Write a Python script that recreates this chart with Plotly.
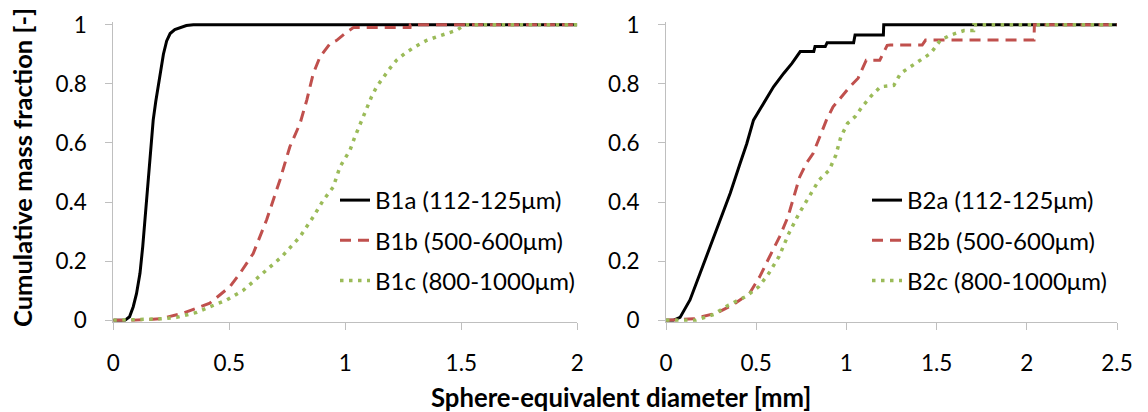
import plotly.graph_objects as go

# ---------------- data ----------------
series_names_1 = ["B1a (112-125μm)", "B1b (500-600μm)", "B1c (800-1000μm)"]
series_names_2 = ["B2a (112-125μm)", "B2b (500-600μm)", "B2c (800-1000μm)"]

b1a_x = [0, 0.05, 0.07, 0.086, 0.1, 0.115, 0.127, 0.137, 0.146, 0.155, 0.163, 0.172, 0.183,
         0.194, 0.205, 0.216, 0.23, 0.245, 0.265, 0.287, 0.315, 0.345, 2.0]
b1a_y = [0, 0, 0.012, 0.046, 0.09, 0.159, 0.25, 0.34, 0.425, 0.508, 0.59, 0.677, 0.74,
         0.79, 0.85, 0.9, 0.945, 0.97, 0.983, 0.99, 0.997, 1.0, 1.0]

b1b_x = [0, 0.086, 0.201, 0.30, 0.416, 0.503, 0.546, 0.603, 0.661, 0.718, 0.761, 0.805, 0.834,
         0.862, 0.891, 0.934, 0.963, 1.006, 1.035, 1.279, 1.28, 2.0]
b1b_y = [0, 0, 0.005, 0.024, 0.058, 0.114, 0.159, 0.226, 0.34, 0.474, 0.587, 0.666, 0.745,
         0.835, 0.891, 0.936, 0.947, 0.975, 0.99, 0.99, 1.0, 1.0]

b1c_x = [0, 0.2, 0.273, 0.36, 0.417, 0.489, 0.561, 0.647, 0.726, 0.805, 0.862, 0.905, 0.948,
         0.977, 1.020, 1.041, 1.07, 1.092, 1.113, 1.135, 1.164, 1.193, 1.221, 1.257, 1.3,
         1.351, 1.394, 1.437, 1.48, 1.516, 2.0]
b1c_y = [0, 0.005, 0.01, 0.027, 0.046, 0.069, 0.102, 0.159, 0.215, 0.283, 0.35, 0.406, 0.451,
         0.519, 0.575, 0.62, 0.677, 0.722, 0.756, 0.79, 0.824, 0.853, 0.88, 0.903, 0.925,
         0.947, 0.959, 0.97, 0.981, 1.0, 1.0]

b2a_x = [0, 0.04, 0.078, 0.133, 0.189, 0.244, 0.3, 0.356, 0.411, 0.448, 0.485, 0.541, 0.596,
         0.652, 0.698, 0.744, 0.819, 0.826, 0.883, 0.893, 1.04, 1.048, 1.205, 1.207, 2.5]
b2a_y = [0, 0, 0.01, 0.069, 0.159, 0.249, 0.34, 0.43, 0.531, 0.598, 0.677, 0.733, 0.79,
         0.835, 0.869, 0.909, 0.909, 0.926, 0.926, 0.939, 0.939, 0.965, 0.965, 1.0, 1.0]

b2b_x = [0, 0.152, 0.278, 0.37, 0.463, 0.519, 0.574, 0.63, 0.676, 0.704, 0.741, 0.778, 0.815,
         0.852, 0.889, 0.926, 0.972, 1.019, 1.065, 1.09, 1.11, 1.185, 1.207, 1.226, 1.244,
         1.42, 1.439, 2.04, 2.042, 2.5]
b2b_y = [0, 0.005, 0.024, 0.052, 0.091, 0.147, 0.215, 0.283, 0.35, 0.406, 0.485, 0.531, 0.564,
         0.62, 0.677, 0.722, 0.756, 0.79, 0.819, 0.85, 0.88, 0.88, 0.91, 0.93, 0.931,
         0.931, 0.948, 0.948, 1.0, 1.0]

b2c_x = [0, 0.163, 0.265, 0.348, 0.441, 0.515, 0.57, 0.626, 0.681, 0.737, 0.793, 0.848, 0.904,
         0.941, 0.969, 1.006, 1.05, 1.087, 1.133, 1.189, 1.263, 1.3, 1.356, 1.411, 1.467,
         1.522, 1.578, 1.652, 1.705, 1.707, 2.5]
b2c_y = [0, 0.0, 0.02, 0.052, 0.08, 0.114, 0.159, 0.215, 0.294, 0.361, 0.418, 0.474, 0.507,
         0.558, 0.62, 0.666, 0.69, 0.722, 0.756, 0.79, 0.795, 0.835, 0.858, 0.88, 0.903,
         0.948, 0.965, 0.98, 0.98, 1.0, 1.0]

y_ticks = [0, 0.2, 0.4, 0.6, 0.8, 1]
x1_ticks = [0, 0.5, 1, 1.5, 2]
x2_ticks = [0, 0.5, 1, 1.5, 2, 2.5]

x_title = "Sphere-equivalent diameter [mm]"
y_title = "Cumulative mass fraction [-]"

# ---------------- styling ----------------
FONT = "Lato"
BLACK = "#000000"
RED = "#C0504D"
GREEN = "#9BBB59"
AXIS = "#BFBFBF"

styles = [
    dict(color=BLACK, width=3),
    dict(color=RED, width=3, dash="11px,7px"),
    dict(color=GREEN, width=3.5, dash="3.5px,5.5px"),
]

fig = go.Figure()

left = [(b1a_x, b1a_y), (b1b_x, b1b_y), (b1c_x, b1c_y)]
right = [(b2a_x, b2a_y), (b2b_x, b2b_y), (b2c_x, b2c_y)]

for i, (xs, ys) in enumerate(left):
    fig.add_trace(go.Scatter(x=xs, y=ys, mode="lines", name=series_names_1[i],
                             line=styles[i], xaxis="x", yaxis="y",
                             legend="legend", legendgroup="l%d" % i))
for i, (xs, ys) in enumerate(right):
    fig.add_trace(go.Scatter(x=xs, y=ys, mode="lines", name=series_names_2[i],
                             line=styles[i], xaxis="x2", yaxis="y2",
                             legend="legend2", legendgroup="r%d" % i))

W, H = 1148, 412
y_dom = [1 - 321.8 / H, 1 - 22.3 / H]
yrange = [-0.005, 1.008]

axis_common = dict(showline=True, linecolor=AXIS, linewidth=1, ticks="outside",
                   ticklen=7, tickcolor=AXIS, tickwidth=1, showgrid=False, zeroline=False,
                   automargin=False,
                   tickfont=dict(family=FONT, size=22.5, color="#000000"))

legend_common = dict(font=dict(family=FONT, size=24, color="#000000"),
                     bgcolor="rgba(0,0,0,0)", itemwidth=30, tracegroupgap=6,
                     xanchor="left", yanchor="top", traceorder="grouped")

fig.update_layout(
    width=W, height=H, autosize=False,
    margin=dict(l=0, r=0, t=0, b=0),
    paper_bgcolor="white", plot_bgcolor="white",
    font=dict(family=FONT, color="#000000"),
    xaxis=dict(domain=[113.3 / W, 577.3 / W], range=[0, 2], tickvals=x1_ticks,
               anchor="y", ticklabelstandoff=14, **axis_common),
    yaxis=dict(domain=y_dom, range=yrange, tickvals=y_ticks, anchor="x",
               ticklabelstandoff=14, **axis_common),
    xaxis2=dict(domain=[666.0 / W, 1117.0 / W], range=[0, 2.5], tickvals=x2_ticks,
                anchor="y2", ticklabelstandoff=14, **axis_common),
    yaxis2=dict(domain=y_dom, range=yrange, tickvals=y_ticks, anchor="x2",
                ticklabelstandoff=14, **axis_common),
    legend=dict(x=335 / W, y=1 - 178 / H, **legend_common),
    legend2=dict(x=867 / W, y=1 - 178 / H, **legend_common),
    showlegend=True,
    annotations=[
        dict(text="<b>" + x_title + "</b>", xref="paper", yref="paper",
             x=620.5 / W, y=1 - 397 / H, xanchor="center", yanchor="middle",
             showarrow=False, font=dict(family=FONT, size=25.7, color="#000000")),
        dict(text="<b>" + y_title + "</b>", xref="paper", yref="paper",
             x=22 / W, y=1 - 168 / H, xanchor="center", yanchor="middle",
             textangle=-90, showarrow=False,
             font=dict(family=FONT, size=25.5, color="#000000")),
    ],
)

fig.write_html("out.html")
